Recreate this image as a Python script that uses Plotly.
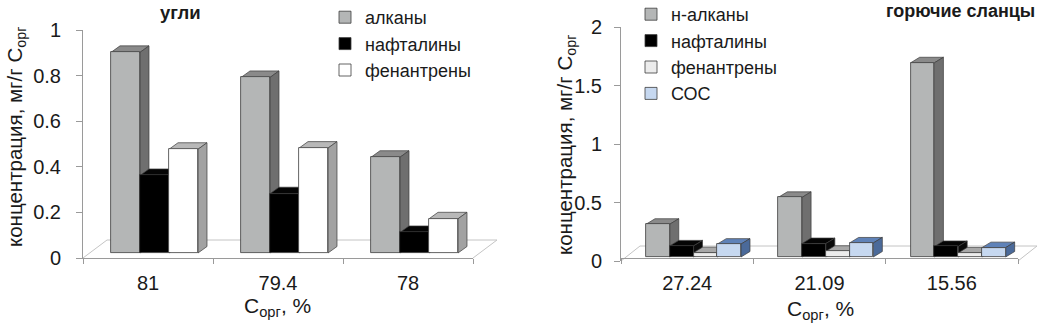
import plotly.graph_objects as go

# ---------------- data ----------------
coal_cats = ["81", "79.4", "78"]
coal_alkanes = [0.88, 0.77, 0.42]
coal_naph = [0.34, 0.26, 0.09]
coal_phen = [0.455, 0.46, 0.15]

shale_cats = ["27.24", "21.09", "15.56"]
shale_alkanes = [0.28, 0.51, 1.66]
shale_naph = [0.095, 0.115, 0.09]
shale_phen = [0.037, 0.049, 0.035]
shale_coc = [0.11, 0.12, 0.08]

coal_names = ["алканы", "нафталины", "фенантрены"]
shale_names = ["н-алканы", "нафталины", "фенантрены", "СОС"]

# ---------------- styles ----------------
W, H = 1052, 326
FONT = "Arial, Liberation Sans, sans-serif"
TXT = "#1a1a1a"
AXC = "#9a9a9a"
FLOOR = "#c4c4c4"
EDGE = "#3c3c3c"

# (front, top, side)
GRAY = ("#b4b6b6", "#8a8a8a", "#6f6f6f")
BLACK = ("#000000", "#050505", "#0a0a0a")
WHITE = ("#ffffff", "#b8b8b8", "#a2a2a2")
LIGHT = ("#ececec", "#a8a8a8", "#8e8e8e")
BLUE = ("#c6d8f0", "#5f82b8", "#4b6a9a")

# panel geometry in pixels
L = dict(x0=83, x1=473, y0=258, y1=30, ymax=1.0, base_px=5, start_px=28, bar_px=29,
         dx_px=9, dy_px=6.5, fdx=24, fdy=18, ystand=11)
R = dict(x0=621, x1=1018, y0=261, y1=27, ymax=2.0, base_px=4, start_px=25, bar_px=23.75,
         dx_px=9, dy_px=5.5, fdx=19, fdy=15, ystand=8)

fig = go.Figure()
shapes = []


def panel(series, names, colors, cats, g, xa, ya, legend):
    ncat = len(cats)
    pxu_x = (g["x1"] - g["x0"]) / ncat
    pxu_y = (g["y0"] - g["y1"]) / g["ymax"]
    base = g["base_px"] / pxu_y
    start = -0.5 + g["start_px"] / pxu_x
    w = g["bar_px"] / pxu_x
    dx = g["dx_px"] / pxu_x
    dy = g["dy_px"] / pxu_y
    xs = list(range(ncat))
    for k, (vals, name, col) in enumerate(zip(series, names, colors)):
        off = start + k * w
        fig.add_trace(go.Bar(
            x=xs, y=vals, base=[base] * ncat, width=w, offset=off,
            name=name, marker=dict(color=col[0], line=dict(color=EDGE, width=0.8)),
            xaxis=xa, yaxis=ya, legend=legend, hoverinfo="skip"))
        for i, v in enumerate(vals):
            xl = i + off
            xr = xl + w
            yb = base
            yt = base + v
            # top face
            shapes.append(dict(
                type="path", layer="below", xref=xa, yref=ya,
                path=f"M{xl},{yt} L{xr},{yt} L{xr+dx},{yt+dy} L{xl+dx},{yt+dy} Z",
                fillcolor=col[1], line=dict(color=EDGE, width=0.7)))
            # side face
            shapes.append(dict(
                type="path", layer="below", xref=xa, yref=ya,
                path=f"M{xr},{yb} L{xr},{yt} L{xr+dx},{yt+dy} L{xr+dx},{yb+dy} Z",
                fillcolor=col[2], line=dict(color=EDGE, width=0.7)))
    # floor (drawn in axis-domain units)
    fx = g["fdx"] / (g["x1"] - g["x0"])
    fy = g["fdy"] / (g["y0"] - g["y1"])
    xd = xa + " domain"
    yd = ya + " domain"
    for (a, b, c, d) in [(0, 0, fx, fy), (fx, fy, 1 + fx, fy), (1, 0, 1 + fx, fy)]:
        shapes.append(dict(type="line", layer="below", xref=xd, yref=yd,
                           x0=a, y0=b, x1=c, y1=d, line=dict(color=FLOOR, width=1)))


panel([coal_alkanes, coal_naph, coal_phen], coal_names, [GRAY, BLACK, WHITE],
      coal_cats, L, "x", "y", "legend")
panel([shale_alkanes, shale_naph, shale_phen, shale_coc], shale_names,
      [GRAY, BLACK, LIGHT, BLUE], shale_cats, R, "x2", "y2", "legend2")


def xaxis(g, cats):
    return dict(
        domain=[g["x0"] / W, g["x1"] / W], range=[-0.5, len(cats) - 0.5],
        tickmode="array", tickvals=list(range(len(cats))), ticktext=cats,
        ticks="", showgrid=False, zeroline=False, showline=True,
        linecolor=AXC, linewidth=1, fixedrange=True, automargin=False,
        minor=dict(tickvals=[i - 0.5 for i in range(len(cats) + 1)], ticks="outside",
                   ticklen=5, tickcolor=AXC, tickwidth=1, showgrid=False),
        tickfont=dict(family=FONT, size=20, color=TXT), ticklabelstandoff=7)


def yaxis(g, dtick, anchor):
    return dict(
        domain=[(H - g["y0"]) / H, (H - g["y1"]) / H], range=[0, g["ymax"]],
        dtick=dtick, tick0=0, ticks="outside", ticklen=6, tickcolor=AXC,
        showgrid=False, zeroline=False, showline=True, linecolor=AXC, linewidth=1,
        anchor=anchor, fixedrange=True, automargin=False,
        tickfont=dict(family=FONT, size=20, color=TXT), ticklabelstandoff=g["ystand"])


def ann(text, px, py, size, bold=False, angle=0):
    return dict(text=f"<b>{text}</b>" if bold else text, x=px / W, y=1 - py / H,
                xref="paper", yref="paper", xanchor="center", yanchor="middle",
                showarrow=False, textangle=angle,
                font=dict(family=FONT, size=size, color=TXT))


ytitle = "концентрация, мг/г С<sub>орг</sub>"
xtitle = "С<sub>орг</sub>, %"

fig.update_layout(
    width=W, height=H, margin=dict(l=0, r=0, t=0, b=0, autoexpand=False),
    paper_bgcolor="white", plot_bgcolor="white",
    barmode="overlay", bargap=0,
    xaxis=xaxis(L, coal_cats), yaxis=yaxis(L, 0.2, "x"),
    xaxis2=xaxis(R, shale_cats), yaxis2=yaxis(R, 0.5, "x2"),
    shapes=shapes,
    legend=dict(x=325 / W, y=1 + 1 / H, xanchor="left", yanchor="top",
                font=dict(family=FONT, size=18, color=TXT), bgcolor="rgba(0,0,0,0)",
                itemwidth=30, tracegroupgap=0, itemclick=False),
    legend2=dict(x=631 / W, y=1 + 4 / H, xanchor="left", yanchor="top",
                 font=dict(family=FONT, size=18, color=TXT), bgcolor="rgba(0,0,0,0)",
                 itemwidth=30, tracegroupgap=0, itemclick=False),
    annotations=[
        ann("угли", 180, 13, 18.5, bold=True),
        ann("горючие сланцы", 960, 11, 18, bold=True),
        ann(ytitle, 16, 137, 20.5, angle=-90),
        ann(ytitle, 566, 145, 20.5, angle=-90),
        ann(xtitle, 277, 307, 21),
        ann(xtitle, 820, 310, 21),
    ],
)

fig.write_html("out.html", config={"displayModeBar": False},
               post_script="document.body.style.margin='0';")
